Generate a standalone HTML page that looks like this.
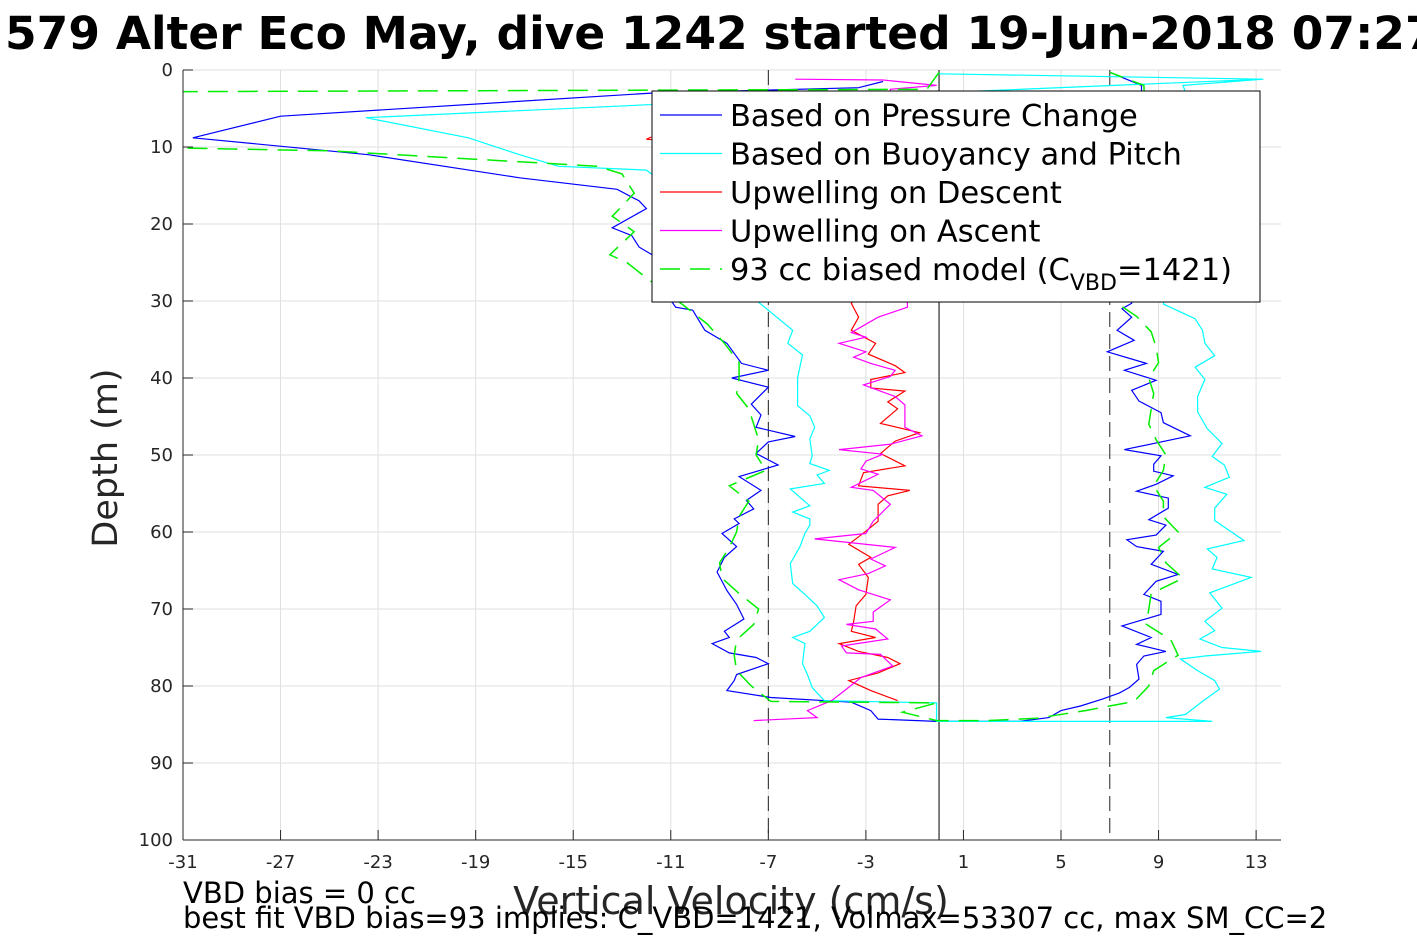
<!DOCTYPE html>
<html><head><meta charset="utf-8"><style>
body{margin:0;background:#fff;width:1417px;height:945px;overflow:hidden;font-family:"DejaVu Sans","Liberation Sans",sans-serif}
svg{display:block}
</style></head><body>
<svg id="chart" width="1417" height="945" xmlns="http://www.w3.org/2000/svg">
<defs><clipPath id="pc"><rect x="183" y="70" width="1098" height="770"/></clipPath></defs>
<rect width="1417" height="945" fill="#fff"/>
<g id="grid"></g>
<g id="series" clip-path="url(#pc)"></g>
<g id="axes"></g>
<text x="5" y="49" font-size="45.5" font-weight="bold" fill="#000">579 Alter Eco May, dive 1242 started 19-Jun-2018 07:27</text>
<text transform="translate(117,458) rotate(-90)" text-anchor="middle" font-size="35" fill="#262626">Depth (m)</text>
<text x="731" y="914" text-anchor="middle" font-size="38" fill="#262626">Vertical Velocity (cm/s)</text>
<text x="183" y="903" font-size="29" fill="#000">VBD bias = 0 cc</text>
<text x="183" y="928" font-size="29" fill="#000">best fit VBD bias=93 implies: C_VBD=1421, Volmax=53307 cc, max SM_CC=2</text>
<g id="legend">
<rect x="652" y="91" width="608" height="211" fill="#fff" stroke="#000" stroke-width="1"/>
</g>
</svg>
<script>
// axis domain data
const xTicks = [-31,-27,-23,-19,-15,-11,-7,-3,1,5,9,13];
const yTicks = [0,10,20,30,40,50,60,70,80,90,100];
const refLines = [-7, 0, 7];
// series: depths and velocities
const pressDescD = [1.5,2.3,3,6,8.8,11,14,15.5,17,18,20.5,21.5,23,24.5,27,29,30.8,31.2,33.8,35.5,38.1,39,40,41.2,43.4,44.8,46.4,47.6,48.3,49.8,51.3,52.8,54.6,55.9,57,58.3,58.9,60.2,61.9,63.3,65.2,67.6,69.4,71.3,72.9,73.7,74.5,75.7,76.3,77.1,78.5,79.3,80.6,81.5,82.1,83.2,84.3,84.6];
const pressDescV = [-2.3,-3.3,-11.8,-27,-30.6,-23.4,-17.2,-13.2,-12.3,-12,-13.4,-12.6,-12.3,-11.5,-11.5,-11.2,-10.8,-10.1,-9.6,-8.7,-8.1,-7,-8.5,-7,-7.7,-7.3,-7.5,-5.9,-7,-7.5,-6.6,-8.2,-7.3,-7.9,-7.6,-8.4,-8.2,-8.9,-8.3,-8.8,-9.1,-8.7,-8.3,-8,-8.8,-8.6,-9.3,-8.6,-7.5,-7,-8.3,-8.4,-8.7,-6.9,-3.6,-2.8,-2.5,-0.1];
const pressAscD = [84.6,84.1,83.2,82.6,81.7,80.9,80.2,79.1,77.2,76.1,75.5,74.6,73.7,72.2,70.7,69,68.1,66.4,65.5,64.2,62.5,61.9,61,60.4,59.1,58.4,56.9,55.6,54.7,53.8,52.7,52.1,51.2,50.1,49.3,47.5,45.8,44.5,43,41.6,40.3,39,38.1,36.6,35.1,33.8,32.1,31,30.3,20,10,3,2,0.3];
const pressAscV = [3.3,4.5,5,5.8,6.7,7.4,7.8,8.2,8.1,8.4,9.3,8.1,8.7,7.5,9.1,9.1,8.4,8.9,9.8,8.7,9.2,8.1,7.7,8.9,9.3,8.6,9.4,9.4,8.1,8.9,9.6,8.8,8.8,9.1,7.6,10.3,9.2,9.1,8.2,7.9,8.9,7.6,8.5,6.9,8,7.3,7.9,7.5,7.9,8,8,8.3,8.3,7];
const buoyDescD = [0.5,1.2,4.5,6.2,8.8,11,12.5,13,20,29.9,31.2,33.8,35.5,37,40,43.6,44.9,46.4,47.9,50.1,51.1,52,52.6,53.7,54.4,56.6,57.4,58.3,59.1,60.2,61.9,64.1,66.7,68.1,69.6,71.1,72.9,73.7,74.5,77.1,78.5,80.2,81.9,82.2,84.6];
const buoyDescV = [0,13.3,-11.9,-23.5,-19.3,-17.2,-15.6,-12,-9,-7.5,-7,-6,-6.2,-5.6,-5.8,-5.8,-5.3,-5.1,-5.3,-5.2,-5.3,-4.5,-5,-4.7,-6.1,-5.3,-6,-5.3,-5.3,-5.5,-5.7,-6.1,-6,-5.5,-5,-4.7,-5.3,-6,-5.5,-5.6,-5.4,-5.2,-4.7,-0.1,-0.1];
const buoyAscD = [84.6,84.1,83.7,82,80.4,79.3,78,76.5,76.1,75.5,75,73.9,72.8,71.6,69.9,67.9,65.9,64.8,63.3,62.2,61.1,59.8,58.5,56.9,55.1,54.2,52.9,51.3,50.2,48.5,46.6,44.4,42.4,40.2,38.6,37.1,35.5,33.8,32.3,30.4,20,10,2,1.2];
const buoyAscV = [11.2,9.3,10.1,10.8,11.5,11.3,10.6,9.9,10.9,13.2,11.6,10.7,11.3,10.9,11.6,11.1,12.8,11.2,11.4,11,12.5,11.9,11.3,11.3,11.8,10.9,11.9,11.7,11.2,11.6,11,10.6,10.6,10.9,10.5,11.3,10.9,10.8,10.5,9.2,10,11,10,13.3];
const modelD = [0.3,2.5,2.9,9.6,10.5,12.5,13.5,16,19,21,24,25,27,30.5,33,35.5,38,40,42,44,46,48,50,52,54,56,58,60,62,64,66,68,70,72,74,76,78,80,82,82.2,83.4,84.5,84.5,84.2,83.2,82,80,78,76,74,72,70,68,66,64,62,60,58,56,54,52,50,48,46,44,42,40,38,36,34,32,30.5,20,10,2,0.3];
const modelV = [0,-0.5,-40,-40,-25,-14,-13,-12.5,-13.4,-12.5,-13.5,-12.8,-12,-10.5,-9.5,-8.8,-8.2,-8.2,-8.3,-7.8,-7.6,-7.4,-7.5,-7.1,-8.6,-7.8,-8.2,-8.3,-8.6,-9,-8.9,-8.2,-7.4,-7.6,-8.3,-8.4,-8.3,-7.7,-6.9,-0.1,-1.5,-0.1,2,4,6,8,8.6,8.8,9.8,9.5,8.5,8.6,8.7,10,9.3,9,9.8,9.2,9.2,8.8,9.2,9.3,8.9,8.6,8.7,8.8,8.6,9,8.9,8.7,8.1,7.4,8.5,8.5,8.4,7];
const upDescD = [8.7,9,10,20,29.9,30.3,32.1,33.8,35.5,36.9,38.4,39.3,40.2,41.3,41.7,43.1,44,45.9,47.1,48.2,49.8,51.4,52.3,54,54.6,55.3,56.4,58.6,59.9,61.6,63.3,64.2,65.9,68.1,69.6,71.6,72.9,73.7,74.5,75.5,76.3,77.1,78.3,79.3,80.6,81.9];
const upDescV = [-11.8,-12,-6,-3,-3.5,-3.6,-3.3,-3.6,-2.6,-2.9,-1.8,-1.4,-2.8,-2.8,-1.4,-2.1,-1.7,-2.4,-0.8,-1.8,-2.4,-1.4,-3.1,-3.3,-1.2,-2.1,-2.5,-2.5,-3,-3.7,-2.8,-3.3,-2.9,-3,-3.4,-3.5,-3.6,-2.6,-4.1,-3.3,-2.1,-1.6,-2.5,-3.7,-2.8,-1.7];
const upAscD = [1.2,1.3,2,2.5,15,29.9,30.8,32.1,34.1,34.7,35.5,36.6,37.3,38.1,39,39.8,40.9,42.4,43.5,46.4,47.5,48.6,49.3,49.9,50.8,51.8,52.5,54.2,54.6,56.4,58.6,60.2,60.9,62,63.5,64.4,65.4,66.2,67.5,68.8,70.4,71.6,72,72.6,73.9,74.8,75.7,75.9,77.4,78.9,80.4,81.9,83.2,84.1,84.5];
const upAscV = [-5.9,-2.3,-0.1,-2,-2,-1.3,-1.3,-2.5,-3.6,-3,-4.1,-3,-3.5,-2.8,-1.8,-2,-3.1,-1.8,-1.4,-1.4,-0.7,-2,-4.1,-2.3,-3,-3.2,-2.5,-3.6,-2.7,-2,-2.7,-3,-5.1,-1.8,-2.8,-2.2,-2.9,-4.1,-3.3,-2,-2.7,-2.7,-3.8,-2.6,-2.1,-4,-3.8,-2.4,-1.9,-3.2,-3.8,-4.4,-5.4,-5,-7.6];
const legendLabels = ["Based on Pressure Change","Based on Buoyancy and Pitch","Upwelling on Descent","Upwelling on Ascent"];

const NS = "http://www.w3.org/2000/svg";
const X0 = 183, X1 = 1281, Y0 = 70, Y1 = 840, VMIN = -31, VMAX = 13 + 25/24.5;
function sx(v){ return X0 + (v - VMIN) / (VMAX - VMIN) * (X1 - X0); }
function sy(d){ return Y0 + d / 100 * (Y1 - Y0); }
function mk(tag, attrs, parent){ const e = document.createElementNS(NS, tag); for (const k in attrs) e.setAttribute(k, attrs[k]); parent.appendChild(e); return e; }
const grid = document.getElementById('grid'), axes = document.getElementById('axes'), series = document.getElementById('series'), legend = document.getElementById('legend');

xTicks.forEach(t => {
  const l = mk('line', {x1: sx(t), x2: sx(t), y1: Y0, y2: Y1, stroke: '#dfdfdf', 'stroke-width': 1}, grid);
  
  
  const tk = mk('line', {x1: sx(t), x2: sx(t), y1: Y1, y2: Y1 - 10, stroke: '#262626'}, axes);
  
  
  const tx = mk('text', {x: sx(t), y: Y1 + 28, 'text-anchor': 'middle', 'font-size': 18, fill: '#262626'}, axes);
  tx.textContent = String(t);
  
  
});
yTicks.forEach(t => {
  const l = mk('line', {x1: X0, x2: X1, y1: sy(t), y2: sy(t), stroke: '#dfdfdf', 'stroke-width': 1}, grid);
  
  
  const tk = mk('line', {x1: X0, x2: X0 + 10, y1: sy(t), y2: sy(t), stroke: '#262626'}, axes);
  
  
  const tx = mk('text', {x: X0 - 10, y: sy(t) + 6, 'text-anchor': 'end', 'font-size': 18, fill: '#262626'}, axes);
  tx.textContent = String(t);
  
  
});
const ax1 = mk('line', {x1: X0, x2: X0, y1: Y0, y2: Y1, stroke: '#262626'}, axes);


const ax2 = mk('line', {x1: X0, x2: X1, y1: Y1, y2: Y1, stroke: '#262626'}, axes);



refLines.forEach(v => {
  const l = mk('line', {x1: sx(v), x2: sx(v), y1: Y0, y2: Y1, stroke: v === 0 ? '#555' : '#222', 'stroke-width': v === 0 ? 1.5 : 1, 'stroke-dasharray': v === 0 ? '' : '15,7'}, series);
  
  
});

function pathOf(ds, vs){ return ds.map((d, i) => (i ? 'L' : 'M') + sx(vs[i]).toFixed(1) + ',' + sy(d).toFixed(1)).join(''); }
function drawLine(ds, vs, color, name, dash, w){
  const p = mk('path', {d: pathOf(ds, vs), fill: 'none', stroke: color, 'stroke-width': w || 1.2, 'stroke-dasharray': dash || ''}, series);
  
  
}
drawLine(pressDescD.concat(pressAscD), pressDescV.concat(pressAscV), '#0000ff', 'pressure-change-line');
drawLine(buoyDescD.concat(buoyAscD), buoyDescV.concat(buoyAscV), '#00ffff', 'buoyancy-pitch-line');
drawLine(upDescD, upDescV, '#ff0000', 'upwelling-descent-line');
drawLine(upAscD, upAscV, '#ff00ff', 'upwelling-ascent-line');
drawLine(modelD, modelV, '#00ee00', 'biased-model-line', '20,10', 1.5);

// legend (drawn on top)
const colors = ['#0000ff', '#00ffff', '#ff0000', '#ff00ff'];
legendLabels.forEach((lab, i) => {
  const y = 115 + i * 38.5;
  const l = mk('line', {x1: 660, x2: 722, y1: y, y2: y, stroke: colors[i], 'stroke-width': 1.2}, legend);
  
  
  const t = mk('text', {x: 730, y: y + 11, 'font-size': 30.5, fill: '#000'}, legend);
  t.textContent = lab;
  
  
});
const ly = 269;
const gl = mk('line', {x1: 660, x2: 722, y1: ly, y2: ly, stroke: '#00ee00', 'stroke-width': 1.5, 'stroke-dasharray': '20,10'}, legend);


const gt = mk('text', {x: 730, y: ly + 11, 'font-size': 30.5, fill: '#000'}, legend);
gt.innerHTML = '93 cc biased model (C<tspan dy="10" font-size="22">VBD</tspan><tspan dy="-10">=1421)</tspan>';


</script>
</body></html>
